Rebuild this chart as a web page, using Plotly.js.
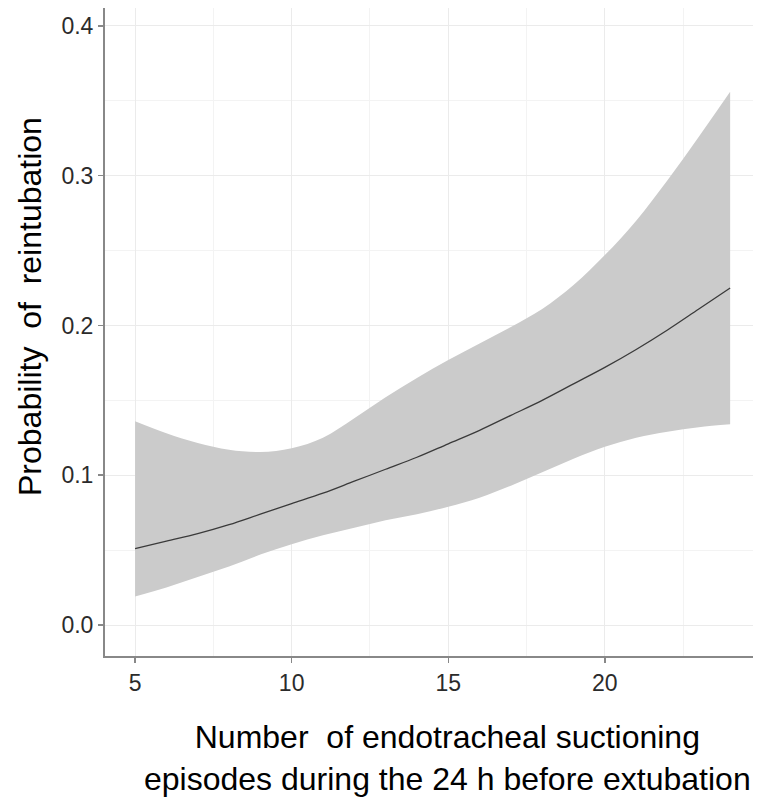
<!DOCTYPE html>
<html>
<head>
<meta charset="utf-8">
<script src="https://cdn.plot.ly/plotly-3.0.1.min.js"></script>
<style>html,body{margin:0;padding:0;background:#fff;}#chart{width:768px;height:811px;}</style>
</head>
<body>
<div id="chart"></div>
<script>
// Data
var episodes = [5, 6, 7, 8, 9, 10, 11, 12, 13, 14, 15, 16, 17, 18, 19, 20, 21, 22, 23, 24];
var probability = [0.051, 0.056, 0.061, 0.067, 0.074, 0.081, 0.088, 0.096, 0.104, 0.112, 0.121, 0.130, 0.140, 0.150, 0.161, 0.172, 0.184, 0.197, 0.211, 0.225];
var lowerCI = [0.019, 0.025, 0.032, 0.039, 0.047, 0.054, 0.060, 0.065, 0.070, 0.074, 0.079, 0.085, 0.093, 0.102, 0.111, 0.119, 0.125, 0.129, 0.132, 0.134];
var upperCI = [0.136, 0.128, 0.1215, 0.117, 0.1155, 0.118, 0.125, 0.138, 0.152, 0.165, 0.177, 0.188, 0.199, 0.211, 0.227, 0.247, 0.270, 0.297, 0.326, 0.356];
var xTicks = [5, 10, 15, 20];
var xTickLabels = ['5', '10', '15', '20'];
var yTicks = [0.0, 0.1, 0.2, 0.3, 0.4];
var yTickLabels = ['0.0', '0.1', '0.2', '0.3', '0.4'];
var xTitleText = 'Number&nbsp; of endotracheal suctioning<br>episodes during the 24 h before extubation';
var yTitleText = 'Probability&nbsp; of&nbsp; reintubation';

var traces = [
  {x: episodes, y: lowerCI, type: 'scatter', mode: 'lines',
   line: {width: 0, shape: 'spline', smoothing: 1}, hoverinfo: 'skip', showlegend: false},
  {x: episodes, y: upperCI, type: 'scatter', mode: 'lines', fill: 'tonexty',
   fillcolor: '#cbcbcb', line: {width: 0, shape: 'spline', smoothing: 1}, hoverinfo: 'skip', showlegend: false},
  {x: episodes, y: probability, type: 'scatter', mode: 'lines',
   line: {color: '#3a3a3a', width: 1.3, shape: 'spline', smoothing: 1}, showlegend: false}
];

var font = 'Liberation Sans, Arial, sans-serif';
var layout = {
  width: 768, height: 811,
  margin: {l: 105, r: 15, t: 8, b: 155},
  paper_bgcolor: '#ffffff', plot_bgcolor: '#ffffff',
  font: {family: font, color: '#333333'},
  showlegend: false,
  xaxis: {
    range: [4.04, 24.73],
    tickmode: 'array', tickvals: xTicks, ticktext: xTickLabels,
    tickfont: {family: font, size: 23, color: '#2b2b2b'},
    ticks: 'outside', ticklen: 5, tickwidth: 1.5, tickcolor: '#888888',
    showline: true, linecolor: '#888888', linewidth: 2,
    showgrid: true, gridcolor: '#ebebeb', gridwidth: 1,
    minor: {dtick: 2.5, tick0: 2.5, showgrid: true, gridcolor: '#f3f3f3', gridwidth: 1},
    zeroline: false, fixedrange: true
  },
  yaxis: {
    range: [-0.0207, 0.412],
    tickmode: 'array', tickvals: yTicks, ticktext: yTickLabels,
    tickfont: {family: font, size: 23, color: '#2b2b2b'},
    ticks: 'outside', ticklen: 5, tickwidth: 1.5, tickcolor: '#888888',
    showline: true, linecolor: '#888888', linewidth: 2,
    showgrid: true, gridcolor: '#ebebeb', gridwidth: 1,
    minor: {dtick: 0.05, tick0: 0.05, showgrid: true, gridcolor: '#f3f3f3', gridwidth: 1},
    zeroline: false, fixedrange: true
  },
  annotations: [
    {text: xTitleText, xref: 'paper', yref: 'paper', x: 0.528, y: -0.157,
     xanchor: 'center', yanchor: 'middle', showarrow: false, align: 'center',
     font: {family: font, size: 32, color: '#000000'}},
    {text: yTitleText, xref: 'paper', yref: 'paper', x: -0.1157, y: 0.5386,
     xanchor: 'center', yanchor: 'middle', showarrow: false, textangle: -90,
     font: {family: font, size: 32, color: '#000000'}}
  ]
};

Plotly.newPlot('chart', traces, layout, {staticPlot: true, displayModeBar: false});
</script>
</body>
</html>
